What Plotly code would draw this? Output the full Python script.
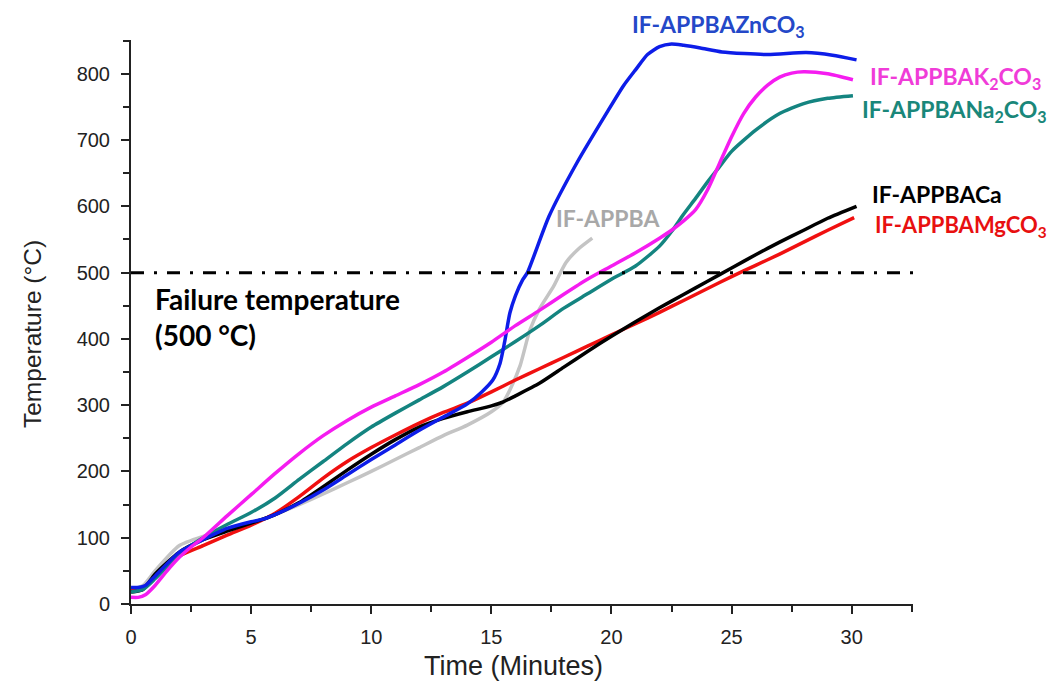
import plotly.graph_objects as go

# ---- data (time in minutes, temperature in °C) ----
appba_t = [0, 0.5, 1, 2, 3, 4, 5, 6, 7, 8, 9, 10, 11, 12, 13, 14, 15, 15.5, 15.8, 16.2, 16.6, 17.0, 17.6, 18.1, 18.6, 19.2]
appba_y = [22, 28, 50, 88, 102, 112, 122, 135, 150, 166, 183, 200, 218, 236, 254, 270, 290, 305, 325, 360, 413, 445, 480, 515, 535, 552]

mg_t = [0, 0.5, 1, 2, 3, 4, 5, 6, 7, 8, 9, 10, 11, 12, 13, 14, 15, 16, 17, 18, 19, 20, 21, 22, 23, 24, 25, 26, 27, 28, 29, 30.1]
mg_y = [20, 25, 40, 72, 88, 104, 119, 137, 162, 190, 215, 236, 255, 273, 289, 303, 320, 338, 355, 372, 389, 406, 423, 440, 458, 476, 494, 511, 528, 546, 564, 583]

ca_t = [0, 0.5, 1, 2, 3, 4, 5, 6, 7, 8, 9, 10, 11, 12, 13, 14, 15, 15.5, 16, 17, 18, 19, 20, 21, 22, 23, 24, 25, 26, 27, 28, 29, 30.2]
ca_y = [18, 22, 45, 78, 97, 110, 122, 135, 153, 177, 202, 226, 248, 267, 280, 290, 299, 305, 314, 333, 357, 381, 404, 426, 447, 467, 487, 507, 527, 546, 564, 582, 600]

na_t = [0, 0.5, 1, 2, 3, 4, 5, 6, 7, 8, 9, 10, 11, 12, 13, 14, 15, 16, 17, 18, 19, 20, 21, 22, 22.5, 23, 23.5, 24, 24.5, 25, 26, 27, 28, 29, 30.05]
na_y = [18, 22, 38, 75, 100, 120, 138, 160, 188, 215, 242, 267, 288, 308, 328, 350, 373, 396, 420, 446, 468, 490, 510, 540, 562, 588, 612, 637, 660, 683, 715, 740, 755, 763, 767]

zn_t = [0, 0.3, 0.6, 1, 2, 3, 4, 5, 5.5, 6, 7, 8, 9, 10, 11, 12, 13, 14, 14.6, 15.06, 15.36, 15.55, 15.77, 16.0, 16.3, 16.5, 17.4, 18.55, 19.8, 20.5, 21.0, 21.5, 22.0, 22.5, 23.0, 23.7, 24.6, 26.5, 28.1, 29.2, 30.2]
zn_y = [25, 25, 28, 42, 78, 97, 114, 124, 128, 135, 152, 172, 195, 218, 240, 262, 282, 302, 320, 338, 363, 395, 439, 465, 489, 500, 585, 665, 741, 782, 806, 829, 841, 845, 843, 839, 833, 829, 832, 828, 821]

k_t = [0, 0.3, 0.6, 1, 1.5, 2, 2.5, 3, 4, 5, 6, 7, 8, 9, 10, 11, 12, 13, 14, 15, 16, 17, 18, 19, 20, 21, 22, 22.5, 23, 23.5, 24, 24.5, 25, 25.5, 26, 26.5, 27, 27.5, 28, 29, 30.05]
k_y = [10, 10, 14, 28, 50, 70, 86, 100, 133, 165, 197, 227, 254, 277, 297, 314, 331, 350, 372, 395, 420, 443, 467, 490, 510, 530, 552, 564, 578, 595, 625, 665, 705, 740, 765, 783, 795, 801, 803, 800, 791]

failure_temp = 500

series = [
    ("IF-APPBA", appba_t, appba_y, "#c4c4c4"),
    ("IF-APPBAMgCO3", mg_t, mg_y, "#f01010"),
    ("IF-APPBACa", ca_t, ca_y, "#000000"),
    ("IF-APPBANa2CO3", na_t, na_y, "#148480"),
    ("IF-APPBAZnCO3", zn_t, zn_y, "#0d1de8"),
    ("IF-APPBAK2CO3", k_t, k_y, "#f51cf0"),
]

fig = go.Figure()
for name, t, y, c in series:
    fig.add_trace(go.Scatter(x=t, y=y, mode="lines", name=name,
                             line=dict(color=c, width=3.5, shape="spline", smoothing=0.6)))

fig.add_shape(type="line", xref="paper", yref="y", x0=0, x1=1.01,
              y0=failure_temp, y1=failure_temp,
              line=dict(color="black", width=3, dash="13px,10px,3px,10px"))

lab_font = "Lato, 'Open Sans', sans-serif"
# (text, x, y, xref, yref, xanchor, size, colour)
labels = [
    ("IF-APPBAZnCO<sub>3</sub>", 24.47, 1.026, "x", "paper", "center", 23, "#2448c8"),
    ("IF-APPBAK<sub>2</sub>CO<sub>3</sub>", 30.67, 795, "x", "y", "left", 23, "#f03cd8"),
    ("IF-APPBANa<sub>2</sub>CO<sub>3</sub>", 30.34, 744, "x", "y", "left", 23, "#1a877a"),
    ("IF-APPBACa", 30.75, 619, "x", "y", "left", 23, "#000000"),
    ("IF-APPBAMgCO<sub>3</sub>", 30.9, 570, "x", "y", "left", 22, "#e81010"),
    ("IF-APPBA", 19.85, 583, "x", "y", "center", 23, "#a8a8a8"),
]
for txt, x, y, xr, yr, xa, sz, col in labels:
    fig.add_annotation(x=x, y=y, xref=xr, yref=yr, text="<b>" + txt + "</b>",
                       showarrow=False, xanchor=xa, yanchor="middle",
                       font=dict(family=lab_font, size=sz, color=col))

fig.add_annotation(x=0.9, y=433, xref="x", yref="y",
                   text="<b>Failure temperature<br>(500 °C)</b>", showarrow=False,
                   xanchor="left", yanchor="middle", align="left",
                   font=dict(family=lab_font, size=28, color="black"))

axis_font = "'Liberation Sans', Arial, sans-serif"
# axis titles
fig.add_annotation(x=0.4885, y=-0.11, xref="paper", yref="paper", text="Time (Minutes)",
                   showarrow=False, xanchor="center", yanchor="middle",
                   font=dict(size=27, family=axis_font, color="#222"))
fig.add_annotation(x=-0.1266, y=0.4787, xref="paper", yref="paper", text="Temperature (°C)",
                   showarrow=False, xanchor="center", yanchor="middle", textangle=-90,
                   font=dict(size=24.5, family=axis_font, color="#222"))

fig.update_layout(
    width=1051, height=676,
    margin=dict(l=123, r=146, t=32, b=80, autoexpand=False),
    paper_bgcolor="white", plot_bgcolor="white",
    showlegend=False,
    font=dict(family=axis_font, color="#222"),
)
fig.update_xaxes(
    range=[0, 32.55], showgrid=False, zeroline=False, automargin=False,
    showline=True, linecolor="#222", linewidth=2,
    ticks="outside", ticklen=8, tickwidth=2, tickcolor="#222",
    tickmode="array", tickvals=[0, 5, 10, 15, 20, 25, 30],
    minor=dict(ticks="outside", ticklen=6, tickwidth=2, tickcolor="#222", dtick=2.5, tick0=0),
    tickfont=dict(size=20, family=axis_font, color="#222"),
    ticklabelstandoff=6,
)
fig.update_yaxes(
    range=[0, 851], showgrid=False, zeroline=False, automargin=False,
    showline=True, linecolor="#222", linewidth=2,
    ticks="outside", ticklen=8, tickwidth=2, tickcolor="#222",
    tickmode="array", tickvals=[0, 100, 200, 300, 400, 500, 600, 700, 800],
    minor=dict(ticks="outside", ticklen=6, tickwidth=2, tickcolor="#222", dtick=50, tick0=0),
    tickfont=dict(size=20, family=axis_font, color="#222"),
    ticklabelstandoff=7,
)

fig.write_html("out.html")
